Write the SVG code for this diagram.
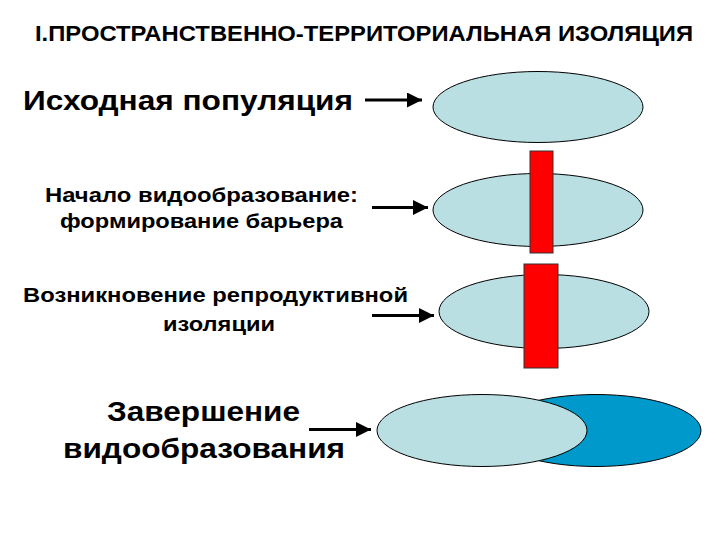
<svg xmlns="http://www.w3.org/2000/svg" width="720" height="540" viewBox="0 0 720 540">
<defs>
<style>
text{font-family:"Liberation Sans",Arial,sans-serif;font-weight:bold;fill:#000}
.pop{fill:#b9dfe3;stroke:#000;stroke-width:1}
.dark{fill:#0099cc;stroke:#000;stroke-width:1}
.bar{fill:#ff0000;stroke:#333;stroke-width:1}
.conn line{stroke:#000;stroke-width:3}
</style>
<marker id="ah" viewBox="0 0 10 10" refX="10" refY="5" markerWidth="7" markerHeight="5" markerUnits="strokeWidth" orient="auto">
<path d="M0,0 L10,5 L0,10 z" fill="#000"/>
</marker>
</defs>
<rect width="720" height="540" fill="#fff"/>
<g id="title"><text x="35" y="41" font-size="22.5" textLength="658" lengthAdjust="spacingAndGlyphs">I.ПРОСТРАНСТВЕННО-ТЕРРИТОРИАЛЬНАЯ ИЗОЛЯЦИЯ</text></g>
<g id="label1"><text x="23" y="110" font-size="27" textLength="330" lengthAdjust="spacingAndGlyphs">Исходная популяция</text></g>
<g id="label2" font-size="21">
<text x="45" y="202" textLength="313" lengthAdjust="spacingAndGlyphs">Начало видообразование:</text>
<text x="60" y="228" textLength="283" lengthAdjust="spacingAndGlyphs">формирование барьера</text>
</g>
<g id="label3" font-size="21">
<text x="23" y="302" textLength="385" lengthAdjust="spacingAndGlyphs">Возникновение репродуктивной</text>
<text x="163" y="331" textLength="112" lengthAdjust="spacingAndGlyphs">изоляции</text>
</g>
<g id="label4" font-size="28">
<text x="107" y="421" textLength="193" lengthAdjust="spacingAndGlyphs">Завершение</text>
<text x="63" y="458" textLength="282" lengthAdjust="spacingAndGlyphs">видообразования</text>
</g>
<g id="node1"><ellipse class="pop" cx="538" cy="107" rx="105" ry="35.5"/></g>
<g id="node2"><ellipse class="pop" cx="538" cy="210" rx="105" ry="36.5"/><rect class="bar" x="530" y="151" width="23" height="102"/></g>
<g id="node3"><ellipse class="pop" cx="544" cy="311.5" rx="105" ry="37"/><rect class="bar" x="524" y="264" width="34" height="104"/></g>
<g id="node4"><ellipse class="dark" cx="596" cy="430.5" rx="105" ry="36"/><ellipse class="pop" cx="482" cy="430.5" rx="105" ry="36"/></g>
<g id="connectors" class="conn">
<line x1="365" y1="100" x2="422" y2="100" marker-end="url(#ah)"/>
<line x1="372" y1="207.5" x2="428" y2="207.5" marker-end="url(#ah)"/>
<line x1="372" y1="315.5" x2="434" y2="315.5" marker-end="url(#ah)"/>
<line x1="309" y1="429.5" x2="371" y2="429.5" marker-end="url(#ah)"/>
</g>
</svg>
